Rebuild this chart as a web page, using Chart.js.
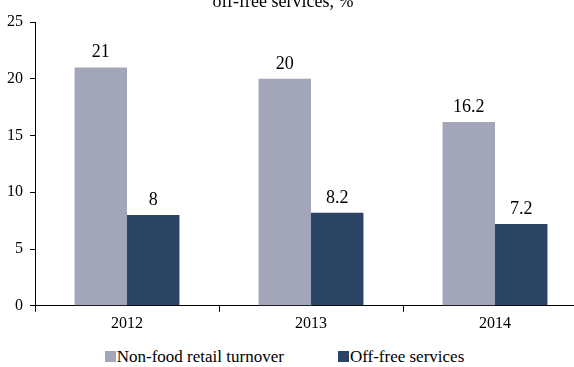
<!DOCTYPE html>
<html>
<head>
<meta charset="utf-8">
<script src="https://cdn.jsdelivr.net/npm/chart.js@4"></script>
<style>
  html, body { margin: 0; padding: 0; background: #fff; }
  #wrap { position: relative; width: 574px; height: 367px; overflow: hidden; font-family: 'Liberation Serif', 'Times New Roman', serif; }
  #box { position: absolute; left: -21px; top: -20px; width: 608px; height: 355px; }
  #legend { position: absolute; left: 0; top: 348px; width: 569px; display: flex; justify-content: center; gap: 54px; font-size: 17px; line-height: 17px; color: #000; }
  #legend .item { display: flex; align-items: flex-end; white-space: nowrap; }
  #legend .swatch { display: inline-block; width: 11px; height: 11px; margin-right: 1px; margin-bottom: 3px; }
</style>
</head>
<body>
<div id="wrap">
  <div id="box"><canvas id="myChart"></canvas></div>
  <div id="legend"></div>
</div>
<script>
const years = ['2012', '2013', '2014'];
const nonFood = [21, 20, 16.2];
const offFree = [8, 8.2, 7.2];
const yTicks = [0, 5, 10, 15, 20, 25];

const serif = 'Liberation Serif, Times New Roman, serif';

// writes each bar's value just above it
const valueLabels = {
  id: 'valueLabels',
  afterDatasetsDraw(chart) {
    const ctx = chart.ctx;
    ctx.save();
    ctx.font = '18px ' + serif;
    ctx.fillStyle = '#000';
    ctx.textAlign = 'center';
    ctx.textBaseline = 'alphabetic';
    chart.data.datasets.forEach((ds, i) => {
      chart.getDatasetMeta(i).data.forEach((bar, j) => {
        ctx.fillText(String(ds.data[j]), bar.x, bar.y - 10);
      });
    });
    ctx.restore();
  }
};

const ctx = document.getElementById('myChart').getContext('2d');
const chart = new Chart(ctx, {
  type: 'bar',
  data: {
    labels: years,
    datasets: [
      { label: 'Non-food retail turnover', data: nonFood, backgroundColor: '#a3a6b9' },
      { label: 'Off-free services', data: offFree, backgroundColor: '#2c4463' }
    ]
  },
  options: {
    responsive: true,
    maintainAspectRatio: false,
    animation: false,
    layout: { padding: { left: 0, right: 0, bottom: 0 } },
    datasets: { bar: { barPercentage: 1, categoryPercentage: 0.57 } },
    plugins: {
      title: {
        display: true,
        text: 'off-free services, %',
        color: '#000',
        font: { family: serif, size: 18, weight: 'normal', lineHeight: 1.2 },
        padding: { top: 11, bottom: 9.4 }
      },
      legend: { display: false },
      tooltip: { enabled: false }
    },
    scales: {
      x: {
        offset: true,
        grid: { display: true, drawOnChartArea: false, offset: true, color: '#000', tickLength: 6 },
        border: { color: '#000', width: 1 },
        ticks: { color: '#000', font: { family: serif, size: 16 }, padding: 2 }
      },
      y: {
        min: 0,
        max: 25,
        afterFit(scale) { scale.width = 56; },
        afterBuildTicks(scale) { scale.ticks = yTicks.map(v => ({ value: v })); },
        grid: { display: true, drawOnChartArea: false, color: '#000', tickLength: 5 },
        border: { color: '#000', width: 1 },
        ticks: { color: '#000', font: { family: serif, size: 16 }, padding: 7 }
      }
    }
  },
  plugins: [valueLabels]
});

// legend underneath, built from the datasets
const legend = document.getElementById('legend');
chart.data.datasets.forEach((ds) => {
  const item = document.createElement('span');
  item.className = 'item';
  item.innerHTML = `<span class="swatch" style="background:${ds.backgroundColor}"></span>${ds.label}`;
  legend.appendChild(item);
});
</script>
</body>
</html>
